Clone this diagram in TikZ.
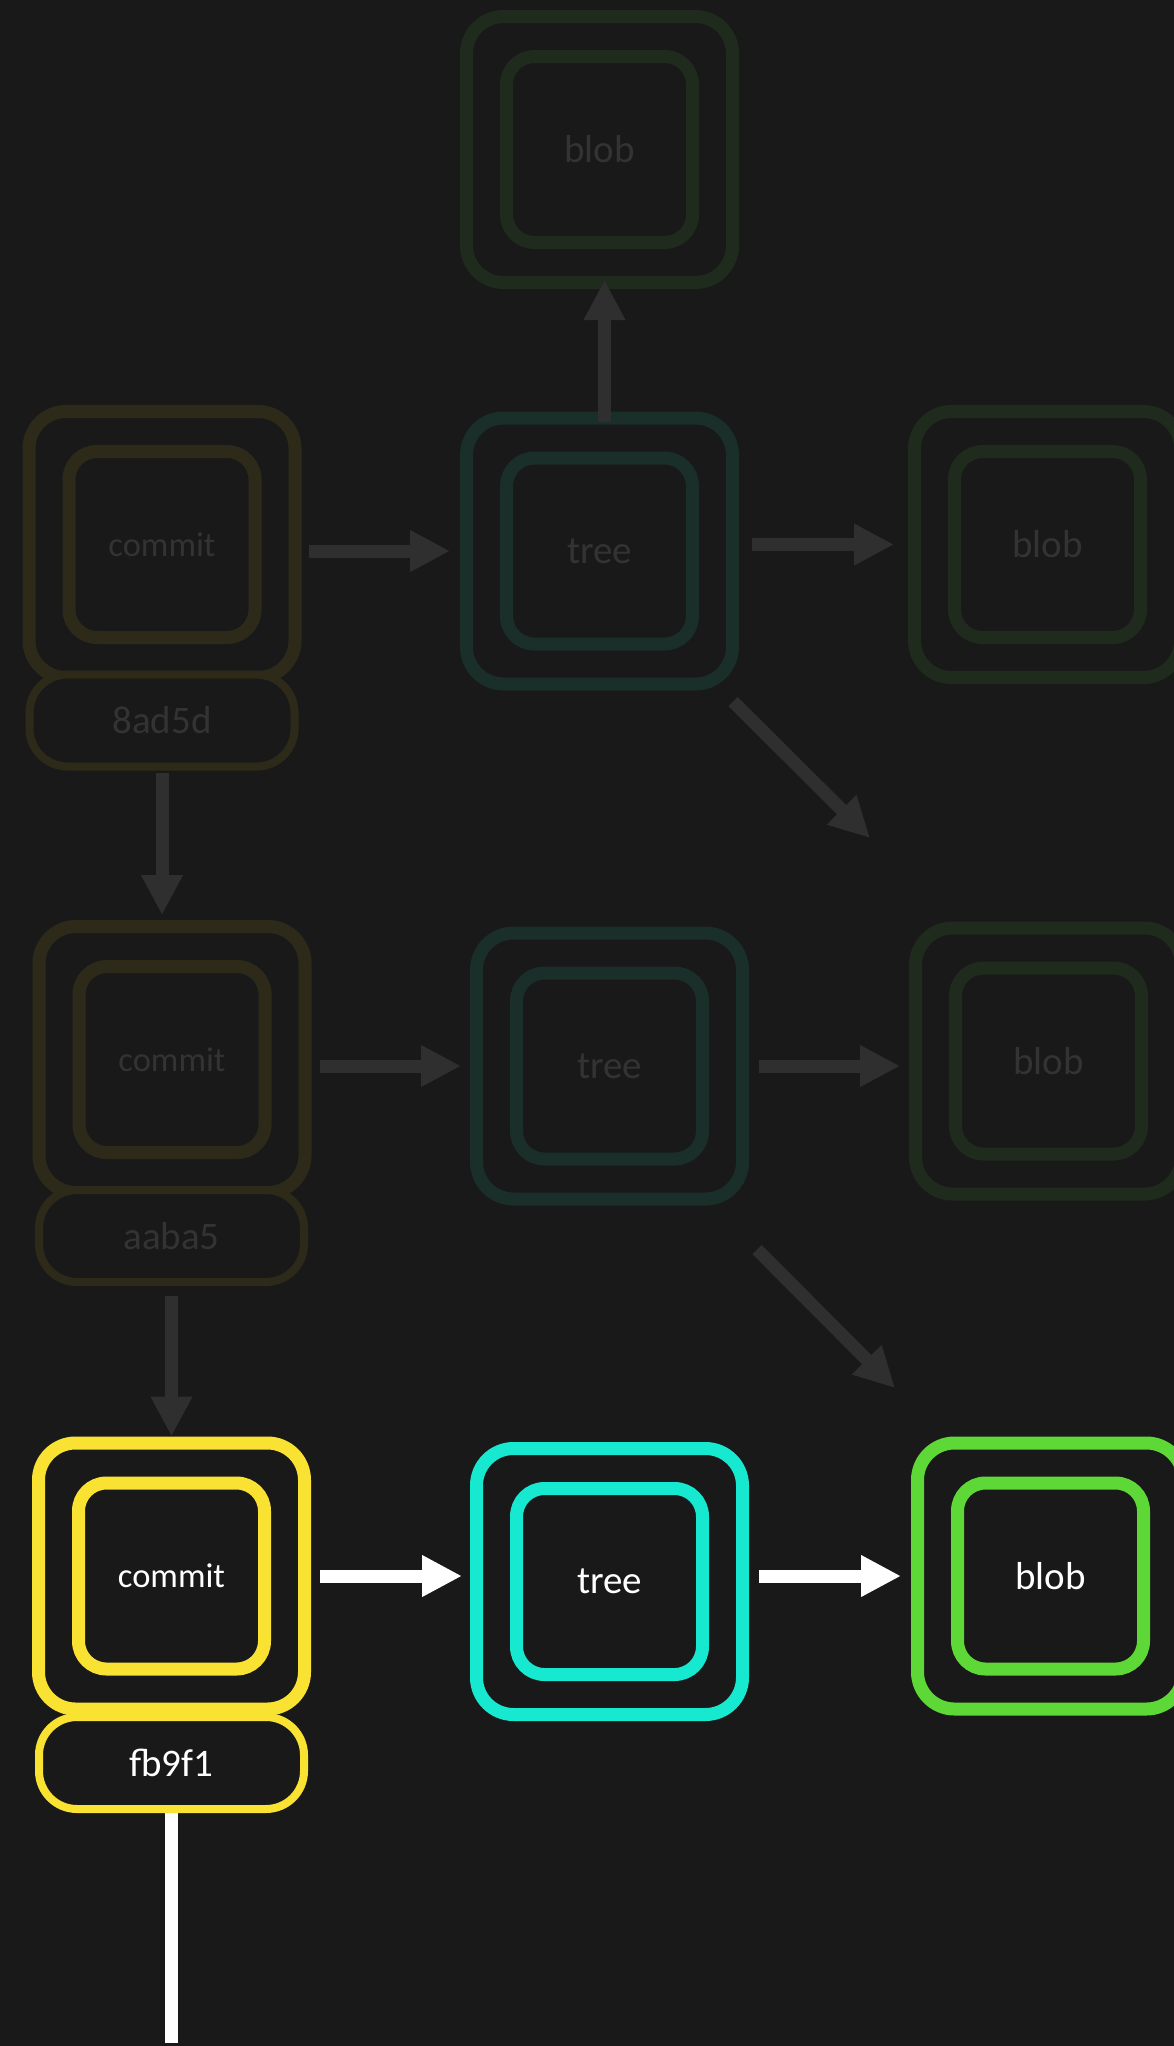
\documentclass[tikz,border=0pt]{standalone}
\usepackage{fontspec}
\setmainfont{Carlito}
\usepackage{tikz}
\usetikzlibrary{arrows.meta,positioning}
\definecolor{bg}{HTML}{191919}
\definecolor{dimtext}{HTML}{333333}
\definecolor{dimarrow}{HTML}{2F2F2F}
\definecolor{commitdim}{HTML}{2E2A1A}
\definecolor{treedim}{HTML}{1A2E2A}
\definecolor{blobdim}{HTML}{1F2B1D}
\definecolor{commitcol}{HTML}{F9E232}
\definecolor{treecol}{HTML}{17E9D0}
\definecolor{blobcol}{HTML}{5ED836}

\begin{document}
\begin{tikzpicture}[x=1pt,y=-1pt,>={Triangle[length=40pt,width=39pt]},
  shell/.style={draw,rounded corners=37pt,line width=13pt,minimum width=266pt,minimum height=266pt,inner sep=0pt},
  core/.style={draw,rounded corners=28pt,line width=13pt,minimum width=186pt,minimum height=186pt,inner sep=0pt,font=\fontsize{39}{47}\selectfont},
  hashbox/.style={draw,fill=bg,rounded corners=38pt,line width=8pt,minimum width=265pt,minimum height=92pt,inner sep=0pt,font=\fontsize{39}{47}\selectfont},
  small/.style={font=\fontsize{34.5}{41}\selectfont},
  linkarrow/.style={->,line width=13pt,shorten <=9pt,shorten >=9pt}]
  \fill[bg] (0,0) rectangle (1174,2046);
  \useasboundingbox (0,0) rectangle (1174,2046);

  \node[shell,draw=blobdim] (b0) at (599.5,149.5) {};
  \node[core,draw=blobdim,text=dimtext] (b0in) at (b0) {blob};

  \node[shell,draw=commitdim] (c1) at (162,544.5) {};
  \node[core,small,draw=commitdim,text=dimtext] (c1in) at (c1) {commit};
  \node[hashbox,draw=commitdim,text=dimtext] (l1) at (162,720.5) {8ad5d};
  \node[shell,draw=treedim] (t1) at (599.5,551) {};
  \node[core,draw=treedim,text=dimtext] (t1in) at (t1) {tree};
  \node[shell,draw=blobdim] (b1) at (1047.5,544.5) {};
  \node[core,draw=blobdim,text=dimtext] (b1in) at (b1) {blob};

  \node[shell,draw=commitdim] (c2) at (172,1059.5) {};
  \node[core,small,draw=commitdim,text=dimtext] (c2in) at (c2) {commit};
  \node[hashbox,draw=commitdim,text=dimtext] (l2) at (171.5,1236) {aaba5};
  \node[shell,draw=treedim] (t2) at (609.5,1066) {};
  \node[core,draw=treedim,text=dimtext] (t2in) at (t2) {tree};
  \node[shell,draw=blobdim] (b2) at (1048.5,1061) {};
  \node[core,draw=blobdim,text=dimtext] (b2in) at (b2) {blob};

  \node[shell,draw=commitcol] (c3) at (171.5,1576) {};
  \node[core,small,draw=commitcol,text=white] (c3in) at (c3) {commit};
  \node[hashbox,draw=commitcol,text=white] (l3) at (171.5,1763) {fb9f1};
  \node[shell,draw=treecol] (t3) at (609.5,1581.5) {};
  \node[core,draw=treecol,text=white] (t3in) at (t3) {tree};
  \node[shell,draw=blobcol] (b3) at (1050.5,1576) {};
  \node[core,draw=blobcol,text=white] (b3in) at (b3) {blob};

  \coordinate (d1) at (870,838);
  \coordinate (d2) at (895,1388);
  \coordinate (tail) at (171.5,2043);

  \draw[linkarrow,dimarrow,shorten <=7pt,shorten >=10pt] (c1.east |- t1.west) -- (t1.west);
  \draw[linkarrow,dimarrow,shorten <=13pt,shorten >=14pt] (t1.east |- b1.west) -- (b1.west);
  \draw[linkarrow,dimarrow,shorten <=-10.5pt,shorten >=-9pt] ([xshift=5pt]t1.north) -- ([xshift=5pt]b0.south);
  \draw[linkarrow,dimarrow,shorten <=0pt,shorten >=0pt] ([shift={(-6,11)}]t1.south east) -- (d1);
  \draw[linkarrow,dimarrow,shorten <=2pt,shorten >=5pt] (l1.south) -- (l1.south |- c2.north);

  \draw[linkarrow,dimarrow,shorten <=8pt,shorten >=9pt] (c2.east |- t2.west) -- (t2.west);
  \draw[linkarrow,dimarrow,shorten <=10pt,shorten >=9pt] (t2.east) -- (t2.east -| b2.west);
  \draw[linkarrow,dimarrow,shorten <=0pt,shorten >=0pt] ([shift={(8,44)}]t2.south east) -- (d2);
  \draw[linkarrow,dimarrow,shorten <=10pt,shorten >=0pt] (l2.south) -- (l2.south |- c3.north);

  \draw[linkarrow,white,shorten <=9pt,shorten >=8pt] (c3.east) -- (c3.east -| t3.west);
  \draw[linkarrow,white,shorten <=10pt,shorten >=10pt] (t3.east |- b3.west) -- (b3.west);
  \draw[line width=13pt,white] (l3.south) -- (tail);
\end{tikzpicture}
\end{document}
